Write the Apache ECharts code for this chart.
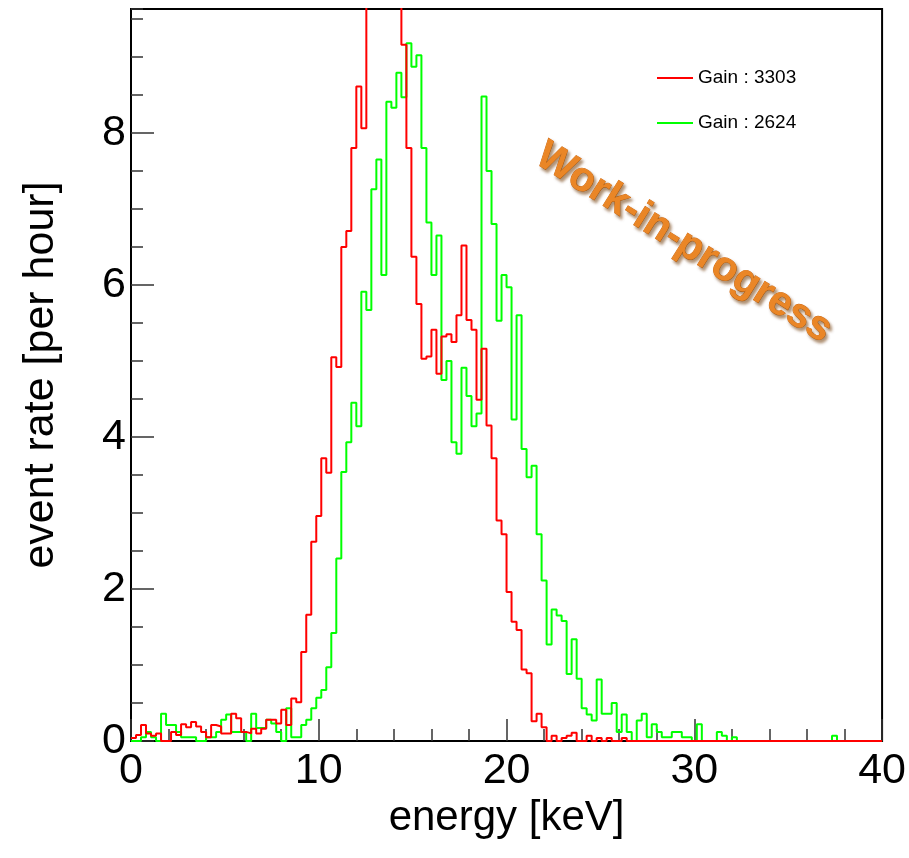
<!DOCTYPE html>
<html><head><meta charset="utf-8">
<script src="https://cdn.jsdelivr.net/npm/echarts@6/dist/echarts.min.js"></script>
<style>html,body{margin:0;padding:0;background:#fff}#c{width:909px;height:858px}</style>
</head><body><div id="c"></div>
<script>
// ---- data ----
const energyMin = 0;
const energyMax = 40;
const nBins = 150;
const yMax = 9.63;
const xTickInterval = 10;
const yTickInterval = 2;
const seriesNames = ['Gain : 3303', 'Gain : 2624'];
const xTitle = 'energy [keV]';
const yTitle = 'event rate [per hour]';
const watermark = 'Work-in-progress';

const rateGain3303 = [
  0.04,0.08,0.21,0.10,0.07,0.10,0,0,0.12,0.08,
  0.22,0.18,0.25,0.19,0.12,0.05,0.21,0.19,0.10,0.10,
  0.36,0.30,0.12,0.10,0.16,0.10,0.16,0.28,0.28,0.23,
  0.41,0.21,0.56,0.51,1.17,1.66,2.62,2.96,3.72,3.53,
  5.05,4.92,6.50,6.71,7.80,8.61,8.06,10.4,11.2,11.8,
  12.3,11.5,10.9,10.1,9.16,7.80,6.37,5.75,5.03,5.06,
  5.41,4.83,5.32,5.35,5.25,5.60,6.52,5.54,5.41,4.49,
  5.16,4.15,3.72,2.90,2.72,1.96,1.57,1.46,0.94,0.89,
  0.26,0.36,0.18,0,0.07,0,0.04,0.07,0.11,0,
  0,0.07,0,0.04,0,0.04,0,0,0.04,0,
  0,0,0,0,0,0,0,0,0,0,
  0,0,0,0,0,0,0,0,0,0,
  0,0,0,0,0,0,0,0,0,0,
  0,0,0,0,0,0,0,0,0,0,
  0,0,0,0,0,0,0,0,0,0
];
const rateGain2624 = [
  0,0,0.05,0.12,0.05,0,0.36,0.21,0.21,0.12,
  0.05,0.05,0.05,0,0,0.05,0.05,0.12,0.28,0.35,
  0.12,0.12,0.12,0,0.36,0.17,0.17,0.28,0.23,0.12,
  0,0.43,0.05,0.05,0.21,0.28,0.43,0.57,0.67,0.97,
  1.42,2.40,3.54,3.93,4.45,4.14,5.91,5.67,7.26,7.65,
  6.13,8.41,8.33,8.79,8.47,9.18,8.87,9.02,7.80,6.82,
  6.13,6.65,4.75,5.00,3.93,3.78,4.91,4.54,4.14,4.31,
  8.48,7.50,6.80,5.53,6.13,5.97,4.23,5.60,3.84,3.47,
  3.62,2.72,2.11,1.27,1.73,1.65,1.58,0.88,1.34,0.82,
  0.43,0.35,0.27,0.81,0.36,0.36,0.50,0.12,0.35,0.12,
  0,0.27,0.36,0.05,0.22,0.12,0.05,0.05,0.12,0.12,
  0.05,0.05,0,0.22,0,0,0,0.12,0.07,0,
  0.05,0,0,0,0,0,0,0,0,0,
  0,0,0,0,0,0,0,0,0,0,
  0.07,0,0,0,0,0,0,0,0,0
];

// ---- build ----
const binWidth = (energyMax - energyMin) / nBins;
function toSteps(vals) {
  const d = vals.map((v, k) => [energyMin + k * binWidth, v]);
  d.push([energyMax, vals[vals.length - 1]]);
  return d;
}
const FONT = '"Liberation Sans", Arial, Helvetica, sans-serif';
const chart = echarts.init(document.getElementById('c'), null, {renderer: 'canvas'});
chart.setOption({
  animation: false,
  backgroundColor: '#fff',
  grid: {left: 131, right: 25, top: 9, bottom: 117, show: true, borderColor: '#000', borderWidth: 2, backgroundColor: 'transparent'},
  legend: {
    orient: 'vertical', left: 657, top: 68, itemGap: 25, padding: 0,
    itemWidth: 36, itemHeight: 2, icon: 'rect',
    textStyle: {fontFamily: FONT, fontSize: 19, color: '#000', lineHeight: 20},
    data: seriesNames
  },
  xAxis: {
    type: 'value', min: energyMin, max: energyMax, interval: xTickInterval,
    name: xTitle, nameLocation: 'middle', nameGap: 53,
    nameTextStyle: {fontFamily: FONT, fontSize: 42, color: '#000'},
    axisLine: {show: true, onZero: false, lineStyle: {color: '#000', width: 2}},
    axisTick: {show: true, inside: true, length: 22, lineStyle: {color: '#333', width: 1.5}},
    minorTick: {show: true, splitNumber: 5, length: 12, lineStyle: {color: '#333', width: 1.5}},
    axisLabel: {fontFamily: FONT, fontSize: 43, color: '#000', margin: 9},
    splitLine: {show: false}
  },
  yAxis: [
    {
      type: 'value', min: 0, max: yMax, interval: yTickInterval,
      name: yTitle, nameLocation: 'middle', nameGap: 68,
      nameTextStyle: {fontFamily: FONT, fontSize: 43, color: '#000'},
      axisLine: {show: true, onZero: false, lineStyle: {color: '#000', width: 2}},
      axisTick: {show: true, inside: true, length: 23, lineStyle: {color: '#333', width: 1.5}},
      axisLabel: {fontFamily: FONT, fontSize: 43, color: '#000', margin: 5, showMaxLabel: false,
        formatter: v => (Math.abs(v / yTickInterval - Math.round(v / yTickInterval)) < 1e-6 ? String(v) : '')},
      splitLine: {show: false}
    },
    {
      type: 'value', min: 0, max: yMax, interval: yTickInterval / 4, position: 'left', offset: 0,
      axisLine: {show: false},
      axisTick: {show: true, inside: true, length: 12, lineStyle: {color: '#333', width: 1.5}},
      axisLabel: {show: false},
      splitLine: {show: false}
    }
  ],
  series: [
    {
      name: seriesNames[1], type: 'line', step: 'end', yAxisIndex: 0,
      data: toSteps(rateGain2624), showSymbol: false, symbol: 'none', clip: true,
      lineStyle: {color: '#00ff00', width: 2}, itemStyle: {color: '#00ff00'}, z: 2
    },
    {
      name: seriesNames[0], type: 'line', step: 'end', yAxisIndex: 0,
      data: toSteps(rateGain3303), showSymbol: false, symbol: 'none', clip: true,
      lineStyle: {color: '#ff0000', width: 2}, itemStyle: {color: '#ff0000'}, z: 3
    }
  ],
  graphic: [{
    type: 'text', x: 684, y: 243, rotation: -0.56, z: 10,
    style: {
      text: watermark, x: 0, y: 0, align: 'center', verticalAlign: 'middle',
      textAlign: 'center', textVerticalAlign: 'middle',
      font: 'bold 41px ' + FONT,
      fill: '#ea8626',
      stroke: '#d06a12', lineWidth: 0.8,
      textShadowColor: 'rgba(110,55,0,0.55)', textShadowBlur: 3, textShadowOffsetX: 2, textShadowOffsetY: 3
    }
  }]
});
</script>
</body></html>
